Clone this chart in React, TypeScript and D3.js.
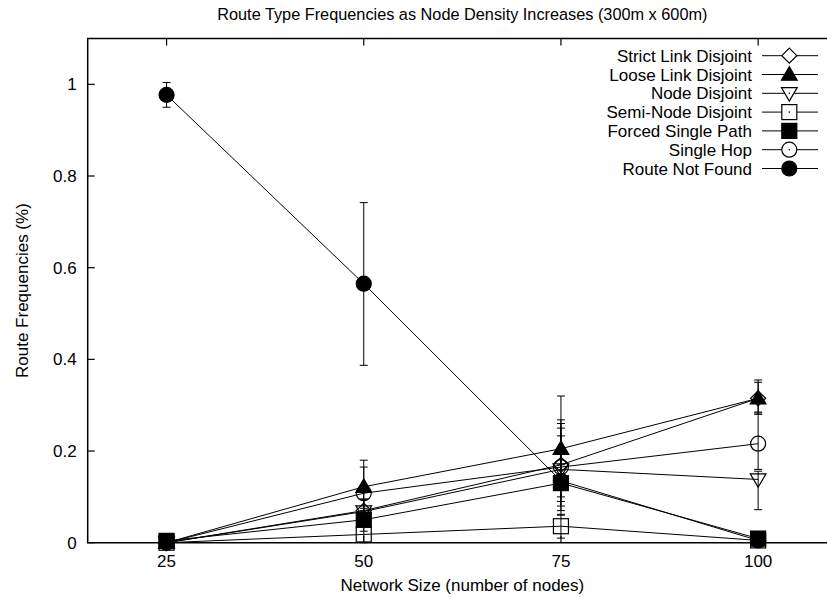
import React from "react";
import * as d3 from "d3";

const title = "Route Type Frequencies as Node Density Increases (300m x 600m)";
const xLabel = "Network Size (number of nodes)";
const yLabel = "Route Frequencies (%)";
const networkSizes = [25, 50, 75, 100];
const xTicks = [25, 50, 75, 100];
const yTicks = [0, 0.2, 0.4, 0.6, 0.8, 1];

const seriesNames = [
  "Strict Link Disjoint",
  "Loose Link Disjoint",
  "Node Disjoint",
  "Semi-Node Disjoint",
  "Forced Single Path",
  "Single Hop",
  "Route Not Found",
];
const seriesMarkers = ["diamond", "triUpFilled", "triDown", "square", "squareFilled", "circle", "circleFilled"];

const strictLink = [0, 0.07, 0.17, 0.315];
const strictLinkLow = [0, 0.045, 0.12, 0.28];
const strictLinkHigh = [0, 0.095, 0.25, 0.35];

const looseLink = [0, 0.122, 0.205, 0.315];
const looseLinkLow = [0, 0.07, 0.09, 0.285];
const looseLinkHigh = [0, 0.18, 0.32, 0.355];

const nodeDisjoint = [0, 0.068, 0.16, 0.138];
const nodeDisjointLow = [0, 0.04, 0.06, 0.072];
const nodeDisjointHigh = [0, 0.095, 0.26, 0.156];

const semiNode = [0, 0.018, 0.036, 0.005];
const semiNodeLow = [0, 0.0, 0.01, 0.0];
const semiNodeHigh = [0, 0.04, 0.062, 0.012];

const forcedSingle = [0.004, 0.05, 0.13, 0.009];
const forcedSingleLow = [0.0, 0.025, 0.08, 0.0];
const forcedSingleHigh = [0.01, 0.075, 0.233, 0.02];

const singleHop = [0, 0.108, 0.165, 0.216];
const singleHopLow = [0, 0.06, 0.07, 0.16];
const singleHopHigh = [0, 0.165, 0.268, 0.283];

const notFound = [0.977, 0.565, 0.135, 0.005];
const notFoundLow = [0.95, 0.387, 0.1, 0.0];
const notFoundHigh = [1.004, 0.742, 0.17, 0.01];

const seriesValues = [strictLink, looseLink, nodeDisjoint, semiNode, forcedSingle, singleHop, notFound];
const seriesLows = [strictLinkLow, looseLinkLow, nodeDisjointLow, semiNodeLow, forcedSingleLow, singleHopLow, notFoundLow];
const seriesHighs = [strictLinkHigh, looseLinkHigh, nodeDisjointHigh, semiNodeHigh, forcedSingleHigh, singleHopHigh, notFoundHigh];

const FONT = "'Liberation Sans', Arial, Helvetica, sans-serif";

function Marker({ type, x, y, fillOpen = "none", dot = false }: { type: string; x: number; y: number; fillOpen?: string; dot?: boolean }) {
  const s = 7.5;
  const sw = 1.2;
  const d = dot ? <circle cx={x} cy={y} r={0.8} fill="black" /> : null;
  switch (type) {
    case "diamond":
      return (
        <path
          d={`M${x},${y - s}L${x + s},${y}L${x},${y + s}L${x - s},${y}Z`}
          fill={fillOpen}
          stroke="black"
          strokeWidth={sw}
        />
      );
    case "triUpFilled":
      return (
        <path
          d={`M${x},${y - s * 1.05}L${x + s * 1.05},${y + s * 0.75}L${x - s * 1.05},${y + s * 0.75}Z`}
          fill="black"
          stroke="black"
          strokeWidth={sw}
        />
      );
    case "triDown":
      return (
        <g>
          <path
            d={`M${x},${y + s * 1.05}L${x + s * 1.05},${y - s * 0.75}L${x - s * 1.05},${y - s * 0.75}Z`}
            fill={fillOpen}
            stroke="black"
            strokeWidth={sw}
          />
          {d}
        </g>
      );
    case "square":
      return (
        <g>
          <rect x={x - s} y={y - s} width={2 * s} height={2 * s} fill={fillOpen} stroke="black" strokeWidth={sw} />
          {d}
        </g>
      );
    case "squareFilled":
      return <rect x={x - s} y={y - s} width={2 * s} height={2 * s} fill="black" stroke="black" strokeWidth={sw} />;
    case "circle":
      return (
        <g>
          <circle cx={x} cy={y} r={s} fill={fillOpen} stroke="black" strokeWidth={sw} />
          {d}
        </g>
      );
    default:
      return <circle cx={x} cy={y} r={s} fill="black" stroke="black" strokeWidth={sw} />;
  }
}

export default function App() {
  const W = 827;
  const H = 597;
  const x = d3.scaleLinear().domain([15, 110]).range([87.7, 837]);
  const y = d3.scaleLinear().domain([0, 1.1]).range([542.7, 38.5]);
  const left = x(15);
  const right = x(110);
  const top = y(1.1);
  const bottom = y(0);
  const tick = 7;
  const fs = 17;

  const line = d3
    .line<number>()
    .x((_, i) => x(networkSizes[i]))
    .y((d) => y(d));

  const legendRightX = 752;
  const legendY0 = 55.7;
  const legendDy = 18.8;
  const legendMarkerX = 789.3;

  return (
    <svg
      width={W}
      height={H}
      style={{ position: "absolute", left: 0, top: 0, background: "white" }}
      fontFamily={FONT}
    >
      <rect x={0} y={0} width={W} height={H} fill="white" />
      {/* frame */}
      <path
        d={`M${right},${top}H${left}V${bottom}H${right}`}
        fill="none"
        stroke="black"
        strokeWidth={1.5}
      />
      {/* x ticks */}
      {xTicks.map((t) => (
        <g key={"xt" + t}>
          <line x1={x(t)} x2={x(t)} y1={bottom} y2={bottom - tick} stroke="black" strokeWidth={1.2} />
          <line x1={x(t)} x2={x(t)} y1={top} y2={top + tick} stroke="black" strokeWidth={1.2} />
          <text x={x(t)} y={bottom + 24} textAnchor="middle" fontSize={fs} fill="black">
            {t}
          </text>
        </g>
      ))}
      {/* y ticks */}
      {yTicks.map((t) => (
        <g key={"yt" + t}>
          <line x1={left} x2={left + tick} y1={y(t)} y2={y(t)} stroke="black" strokeWidth={1.2} />
          <text x={left - 11} y={y(t)} dy="0.36em" textAnchor="end" fontSize={fs} fill="black">
            {t}
          </text>
        </g>
      ))}
      {/* title and labels */}
      <text x={(left + right) / 2} y={20} textAnchor="middle" fontSize={16.3} fill="black">
        {title}
      </text>
      <text x={(left + right) / 2} y={591} textAnchor="middle" fontSize={fs} fill="black">
        {xLabel}
      </text>
      <text
        transform={`translate(28,${(top + bottom) / 2}) rotate(-90)`}
        textAnchor="middle"
        fontSize={fs}
        fill="black"
      >
        {yLabel}
      </text>

      {/* series */}
      {seriesNames.map((name, si) => {
        const vals = seriesValues[si];
        const lows = seriesLows[si];
        const highs = seriesHighs[si];
        return (
          <g key={name}>
            <path d={line(vals) || ""} fill="none" stroke="black" strokeWidth={1} />
            {vals.map((v, i) => {
              const cx = x(networkSizes[i]);
              const yl = y(lows[i]);
              const yh = y(highs[i]);
              return (
                <g key={i}>
                  <line x1={cx} x2={cx} y1={yl} y2={yh} stroke="black" strokeWidth={1} />
                  <line x1={cx - 4} x2={cx + 4} y1={yl} y2={yl} stroke="black" strokeWidth={1} />
                  <line x1={cx - 4} x2={cx + 4} y1={yh} y2={yh} stroke="black" strokeWidth={1} />
                </g>
              );
            })}
            {vals.map((v, i) => (
              <Marker key={"m" + i} type={seriesMarkers[si]} x={x(networkSizes[i])} y={y(v)} />
            ))}
          </g>
        );
      })}

      {/* legend */}
      {seriesNames.map((name, si) => {
        const ly = legendY0 + si * legendDy;
        return (
          <g key={"lg" + name}>
            <text x={legendRightX} y={ly} dy="0.36em" textAnchor="end" fontSize={fs} fill="black">
              {name}
            </text>
            <line x1={762} x2={818} y1={ly} y2={ly} stroke="black" strokeWidth={1} />
            <Marker
              type={seriesMarkers[si]}
              x={legendMarkerX}
              y={ly}
              fillOpen="white"
              dot={seriesMarkers[si] !== "diamond"}
            />
          </g>
        );
      })}
    </svg>
  );
}
